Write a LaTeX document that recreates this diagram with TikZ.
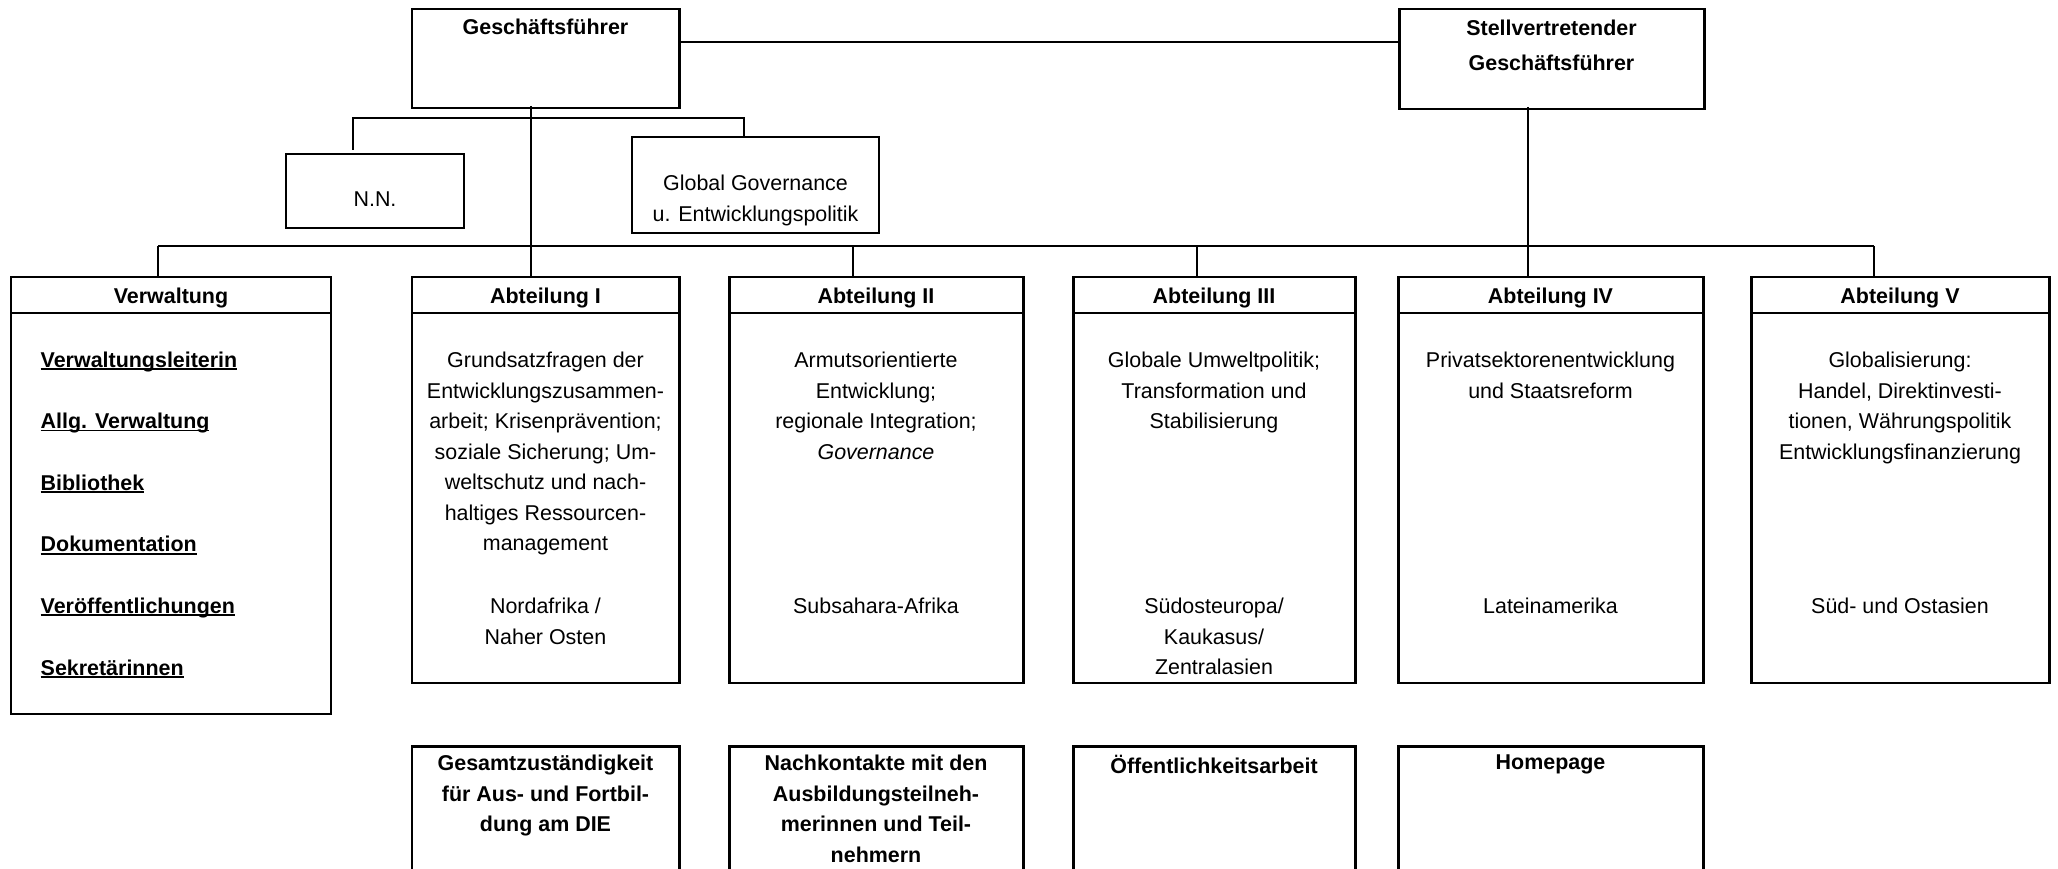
\documentclass[tikz,border=0pt]{standalone}
\usepackage{fontspec}
\setmainfont{Liberation Sans}
\usetikzlibrary{positioning, calc}
\newcommand{\orgfont}{\fontsize{6.1}{8.68}\selectfont}
\newcommand{\ulitem}[1]{\setbox0\hbox{#1}\rlap{\rule[-0.8pt]{\wd0}{0.5pt}}\box0}

\begin{document}
\begin{tikzpicture}[
    deptbox/.style={draw, line width=0.85pt, anchor=north west, inner sep=0pt, outer sep=0pt},
    staffbox/.style={draw, line width=0.6pt, anchor=north west, inner sep=0pt, outer sep=0pt},
    orgline/.style={line width=0.55pt},
    headtxt/.style={font=\orgfont\bfseries, inner sep=0pt, anchor=base},
    bodytxt/.style={font=\orgfont, align=center, inner sep=0pt, anchor=north},
    itemtxt/.style={font=\orgfont\bfseries, inner sep=0pt, anchor=base west},
]

% ── Frame ──
\useasboundingbox (0,0) rectangle (20.58,-8.69);
\clip (0,0) rectangle (20.58,-8.69);

% ── Leitung ──
\node[deptbox, minimum width=2.67cm, minimum height=0.99cm] (gf) at (4.12,-0.09) {};
\node[deptbox, minimum width=3.05cm, minimum height=1.00cm] (sgf) at (13.99,-0.09) {};
\node[headtxt] (gfT) at (gf.north |- 0,-0.35) {Geschäftsführer};
\node[bodytxt, font=\fontsize{6.1}{9.96}\selectfont\bfseries] (sgfT) at (sgf.north |- 0,-0.195) {Stellvertretender\\Geschäftsführer};

% ── Stabsstellen ──
\node[staffbox, minimum width=1.78cm, minimum height=0.74cm] (nn) at (2.86,-1.54) {};
\node[staffbox, minimum width=2.47cm, minimum height=0.96cm] (gg) at (6.32,-1.37) {};
\node[font=\orgfont, inner sep=0pt, anchor=base] (nnT) at (nn.north |- 0,-2.07) {N.N.};
\node[bodytxt] (ggT) at (gg.north |- 0,-1.745) {Global Governance\\u. Entwicklungspolitik};

% ── Abteilungen ──
\node[deptbox, minimum width=3.20cm, minimum height=4.37cm] (verw) at (0.11,-2.77) {};
\node[deptbox, minimum width=2.67cm, minimum height=4.06cm] (abtI) at (4.12,-2.77) {};
\node[deptbox, minimum width=2.94cm, minimum height=4.06cm] (abtII) at (7.29,-2.77) {};
\node[deptbox, minimum width=2.82cm, minimum height=4.06cm] (abtIII) at (10.73,-2.77) {};
\node[deptbox, minimum width=3.05cm, minimum height=4.06cm] (abtIV) at (13.98,-2.77) {};
\node[deptbox, minimum width=2.98cm, minimum height=4.06cm] (abtV) at (17.51,-2.77) {};

\draw[line width=0.85pt] (verw.west |- 0,-3.13) -- (verw.east |- 0,-3.13);
\draw[line width=0.85pt] (abtI.west |- 0,-3.13) -- (abtI.east |- 0,-3.13);
\draw[line width=0.85pt] (abtII.west |- 0,-3.13) -- (abtII.east |- 0,-3.13);
\draw[line width=0.85pt] (abtIII.west |- 0,-3.13) -- (abtIII.east |- 0,-3.13);
\draw[line width=0.85pt] (abtIV.west |- 0,-3.13) -- (abtIV.east |- 0,-3.13);
\draw[line width=0.85pt] (abtV.west |- 0,-3.13) -- (abtV.east |- 0,-3.13);

\node[headtxt] (verwH) at (verw.north |- 0,-3.04) {Verwaltung};
\node[headtxt] (abtIH) at (abtI.north |- 0,-3.04) {Abteilung I};
\node[headtxt] (abtIIH) at (abtII.north |- 0,-3.04) {Abteilung II};
\node[headtxt] (abtIIIH) at (abtIII.north |- 0,-3.04) {Abteilung III};
\node[headtxt] (abtIVH) at (abtIV.north |- 0,-3.04) {Abteilung IV};
\node[headtxt] (abtVH) at (abtV.north |- 0,-3.04) {Abteilung V};

% ── Verwaltung ──
\node[itemtxt] (vw1) at (0.40,-3.67) {\ulitem{Verwaltungsleiterin}};
\node[itemtxt] (vw2) at (0.40,-4.286) {\ulitem{Allg. Verwaltung}};
\node[itemtxt] (vw3) at (0.40,-4.902) {\ulitem{Bibliothek}};
\node[itemtxt] (vw4) at (0.40,-5.518) {\ulitem{Dokumentation}};
\node[itemtxt] (vw5) at (0.40,-6.134) {\ulitem{Veröffentlichungen}};
\node[itemtxt] (vw6) at (0.40,-6.75) {\ulitem{Sekretärinnen}};

% ── Themen ──
\node[bodytxt] (abtIB) at (abtI.north |- 0,-3.515) {Grundsatzfragen der\\Entwicklungszusammen-\\arbeit; Krisenprävention;\\soziale Sicherung; Um-\\weltschutz und nach-\\haltiges Ressourcen-\\management};
\node[bodytxt] (abtIIB) at (abtII.north |- 0,-3.515) {Armutsorientierte\\Entwicklung;\\regionale Integration;\\\textit{Governance}};
\node[bodytxt] (abtIIIB) at (abtIII.north |- 0,-3.515) {Globale Umweltpolitik;\\Transformation und\\Stabilisierung};
\node[bodytxt] (abtIVB) at (abtIV.north |- 0,-3.515) {Privatsektorenentwicklung\\und Staatsreform};
\node[bodytxt] (abtVB) at (abtV.north |- 0,-3.515) {Globalisierung:\\Handel, Direktinvesti-\\tionen, Währungspolitik\\Entwicklungsfinanzierung};

% ── Regionen ──
\node[bodytxt] (abtIR) at (abtI.north |- 0,-5.975) {Nordafrika /\\Naher Osten};
\node[bodytxt] (abtIIR) at (abtII.north |- 0,-5.975) {Subsahara-Afrika};
\node[bodytxt] (abtIIIR) at (abtIII.north |- 0,-5.975) {Südosteuropa/\\Kaukasus/\\Zentralasien};
\node[bodytxt] (abtIVR) at (abtIV.north |- 0,-5.975) {Lateinamerika};
\node[bodytxt] (abtVR) at (abtV.north |- 0,-5.975) {Süd- und Ostasien};

% ── Querschnittsaufgaben ──
\node[deptbox, minimum width=2.67cm, minimum height=1.6cm] (qI) at (4.12,-7.46) {};
\node[deptbox, minimum width=2.94cm, minimum height=1.6cm] (qII) at (7.29,-7.46) {};
\node[deptbox, minimum width=2.82cm, minimum height=1.6cm] (qIII) at (10.73,-7.46) {};
\node[deptbox, minimum width=3.05cm, minimum height=1.6cm] (qIV) at (13.98,-7.46) {};
\node[bodytxt, font=\orgfont\bfseries] (qIT) at (qI.north |- 0,-7.545) {Gesamtzuständigkeit\\für Aus- und Fortbil-\\dung am DIE};
\node[bodytxt, font=\orgfont\bfseries] (qIIT) at (qII.north |- 0,-7.545) {Nachkontakte mit den\\Ausbildungsteilneh-\\merinnen und Teil-\\nehmern};
\node[bodytxt, font=\orgfont\bfseries] (qIIIT) at (qIII.north |- 0,-7.545) {Öffentlichkeitsarbeit};
\node[bodytxt, font=\orgfont\bfseries] (qIVT) at (qIV.north |- 0,-7.545) {Homepage};

% ── Linien ──
\coordinate (busW) at (1.58,-2.46);
\coordinate (busE) at (18.74,-2.46);
\coordinate (jII) at (8.53,-2.46);
\coordinate (jIII) at (11.97,-2.46);
\coordinate (gfStem) at (5.31,-1.06);
\coordinate (sgfStem) at (15.28,-1.07);
\coordinate (subW) at (3.53,-1.18);
\coordinate (subE) at (7.44,-1.18);

\draw[orgline] (gf.east |- 0,-0.42) -- (sgf.west |- 0,-0.42);
\draw[orgline, shorten <=0.04cm] (subW |- nn.north) -- (subW) -- (subE) -- (subE |- gg.north);
\draw[orgline] (busW) -- (busE);
\draw[orgline] (busW) -- (busW |- verw.north);
\draw[orgline] (gfStem) -- (gfStem |- abtI.north);
\draw[orgline] (jII) -- (jII |- abtII.north);
\draw[orgline] (jIII) -- (jIII |- abtIII.north);
\draw[orgline] (sgfStem) -- (sgfStem |- abtIV.north);
\draw[orgline] (busE) -- (busE |- abtV.north);

\end{tikzpicture}
\end{document}
